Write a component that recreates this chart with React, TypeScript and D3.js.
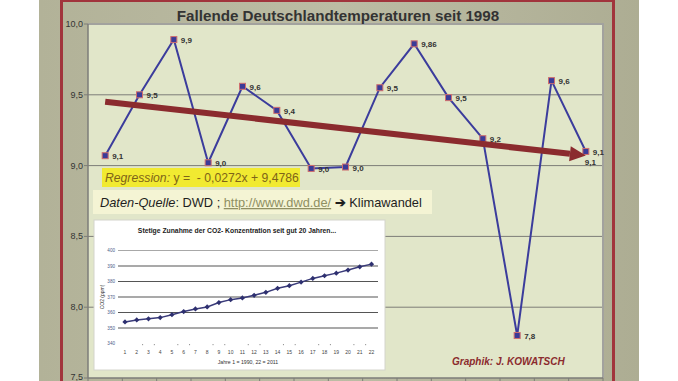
import React from "react";
import * as d3 from "d3";

const categories = ["1997", "1998", "1999", "2000", "2001", "2002", "2003", "2004", "2005", "2006", "2007", "2008", "2009", "2010", "2011"];
const temps = [9.07, 9.5, 9.89, 9.02, 9.56, 9.39, 8.98, 8.99, 9.55, 9.86, 9.48, 9.19, 7.8, 9.6, 9.1];
const tempLabels = ["9,1", "9,5", "9,9", "9,0", "9,6", "9,4", "9,0", "9,0", "9,5", "9,86", "9,5", "9,2", "7,8", "9,6", "9,1"];
const yTicks = [7.5, 8.0, 8.5, 9.0, 9.5, 10.0];
const regSlope = -0.0272;
const regIntercept = 9.4786;

const co2Index = ["1", "2", "3", "4", "5", "6", "7", "8", "9", "10", "11", "12", "13", "14", "15", "16", "17", "18", "19", "20", "21", "22"];
const co2Values = [353.9, 355.2, 355.9, 356.7, 358.6, 360.6, 362.3, 363.6, 366.4, 368.3, 369.4, 371.1, 373.0, 375.6, 377.3, 379.6, 382.0, 383.7, 385.4, 387.4, 389.5, 391.2];
const co2Ticks = [340, 350, 360, 370, 380, 390, 400];

const W = 678;
const H = 381;
const FONT = "'Liberation Sans', Arial, sans-serif";

export default function App() {
  const plot = { l: 88, r: 603, t: 24, b: 378 };
  const x = d3.scaleBand<string>().domain(categories).range([plot.l, plot.r]);
  const y = d3.scaleLinear().domain([7.5, 10]).range([plot.b, plot.t]);
  const cx = (i: number) => (x(categories[i]) as number) + x.bandwidth() / 2;

  const line = d3
    .line<number>()
    .x((_, i) => cx(i))
    .y((d) => y(d));

  // regression arrow
  const n = categories.length;
  const rx0 = cx(0);
  const ry0 = y(regIntercept + regSlope * 1);
  const rx1 = cx(n - 1);
  const ry1 = y(regIntercept + regSlope * n);
  const ang = Math.atan2(ry1 - ry0, rx1 - rx0);
  const headLen = 16;
  const headHalf = 7.5;
  const bx = rx1 - headLen * Math.cos(ang);
  const by = ry1 - headLen * Math.sin(ang);
  const px = -Math.sin(ang);
  const py = Math.cos(ang);
  const head = `M${rx1},${ry1} L${bx + px * headHalf},${by + py * headHalf} L${bx - px * headHalf},${by - py * headHalf} Z`;

  // inset
  const ins = { l: 94, r: 385, t: 220, b: 370 };
  const ix = d3.scalePoint<string>().domain(co2Index).range([125, 371.5]);
  const iy = d3.scaleLinear().domain([340, 400]).range([343.5, 250.5]);
  const iline = d3
    .line<number>()
    .x((_, i) => ix(co2Index[i]) as number)
    .y((d) => iy(d));
  const istep = ix.step();

  return (
    <svg
      width={W}
      height={H}
      style={{ position: "absolute", left: 0, top: 0, fontFamily: FONT }}
    >
      <defs>
        <linearGradient id="bg" x1="0" y1="0" x2="1" y2="0">
          <stop offset="0" stopColor="#b2b298" />
          <stop offset="0.5" stopColor="#bcbca4" />
          <stop offset="1" stopColor="#adad93" />
        </linearGradient>
      </defs>
      <rect x={0} y={0} width={W} height={H} fill="#ffffff" />
      <rect x={39} y={0} width={600} height={H} fill="url(#bg)" />
      <rect x={61.5} y={0.5} width={552} height={H + 10} fill="none" stroke="#a1343c" strokeWidth={3} />

      {/* plot area */}
      <rect x={plot.l} y={plot.t} width={plot.r - plot.l} height={plot.b - plot.t} fill="#e1e6c9" />
      {yTicks.filter((t) => t > 7.5 && t < 10).map((t) => (
        <line key={t} x1={plot.l} x2={plot.r} y1={y(t)} y2={y(t)} stroke="#7d7d78" strokeWidth={1} />
      ))}
      <line x1={plot.l} x2={plot.r + 1} y1={plot.t} y2={plot.t} stroke="#a2a29e" strokeWidth={2} />
      <line x1={plot.r} x2={plot.r} y1={plot.t} y2={plot.b} stroke="#a2a29e" strokeWidth={2} />
      <line x1={plot.l} x2={plot.l} y1={plot.t} y2={plot.b} stroke="#7d7d78" strokeWidth={1.5} />
      <line x1={plot.l} x2={plot.r} y1={plot.b} y2={plot.b} stroke="#7d7d78" strokeWidth={1.5} />
      {yTicks.map((t) => (
        <g key={t}>
          <line x1={plot.l - 4} x2={plot.l} y1={y(t)} y2={y(t)} stroke="#7d7d78" strokeWidth={1} />
          <text x={plot.l - 5} y={Math.min(y(t) + 3, 380)} textAnchor="end" fontSize={9} fill="#333">
            {t.toFixed(1).replace(".", ",")}
          </text>
        </g>
      ))}
      {categories.map((c) => (
        <line key={c} x1={x(c) as number} x2={x(c) as number} y1={plot.b} y2={plot.b + 5} stroke="#7d7d78" strokeWidth={1} />
      ))}
      <line x1={plot.r} x2={plot.r} y1={plot.b} y2={plot.b + 5} stroke="#7d7d78" strokeWidth={1} />

      {/* title */}
      <text x={338} y={21} textAnchor="middle" fontSize={15.2} fontWeight="bold" fill="#333">
        Fallende Deutschlandtemperaturen seit 1998
      </text>

      {/* inset chart */}
      <rect x={ins.l} y={ins.t} width={ins.r - ins.l} height={ins.b - ins.t} fill="#ffffff" stroke="#d4d4cc" strokeWidth={1} />
      <text x={237} y={233} textAnchor="middle" fontSize={6.8} fontWeight="bold" fill="#222">
        Stetige Zunahme der CO2- Konzentration seit gut 20 Jahren...
      </text>
      {co2Ticks.map((t) => (
        <g key={t}>
          {t > 340 && (
            <line x1={118} x2={378} y1={iy(t)} y2={iy(t)} stroke={t === 400 ? "#a8a8a8" : "#555555"} strokeWidth={1.2} />
          )}
          <text x={115} y={iy(t) + 1.6} textAnchor="end" fontSize={4.6} fill="#4a5a8a">
            {t}
          </text>
        </g>
      ))}
      {co2Index.map((c, i) => (
        <g key={c}>
          <text x={ix(c) as number} y={354} textAnchor="middle" fontSize={5} fill="#444">
            {c}
          </text>
          {i % 3 !== 0 && (
            <line x1={(ix(c) as number) + istep / 2} x2={(ix(c) as number) + istep / 2} y1={344} y2={345.2} stroke="#777" strokeWidth={0.8} />
          )}
        </g>
      ))}
      <text x={248} y={364} textAnchor="middle" fontSize={5.2} fill="#333">
        Jahre 1 = 1990, 22 = 2011
      </text>
      <text transform={`translate(104,${297}) rotate(-90)`} textAnchor="middle" fontSize={5} fill="#333">
        CO2 (ppm)
      </text>
      <path d={iline(co2Values) || ""} fill="none" stroke="#3a3b7a" strokeWidth={1.5} />
      {co2Values.map((v, i) => {
        const px2 = ix(co2Index[i]) as number;
        const py2 = iy(v);
        return (
          <path
            key={i}
            d={`M${px2 - 2.6},${py2} L${px2},${py2 - 2.6} L${px2 + 2.6},${py2} L${px2},${py2 + 2.6} Z`}
            fill="#2e3070"
          />
        );
      })}

      {/* regression and source boxes */}
      <rect x={102} y={168} width={198} height={19} fill="#f1ea31" />
      <text x={105} y={182} fontSize={12.2} fill="#7e6418" style={{ whiteSpace: "pre" }}>
        <tspan fontStyle="italic">Regression:</tspan>
        <tspan>{" y =  - 0,0272x + 9,4786"}</tspan>
      </text>
      <rect x={93} y={190} width={339} height={24} fill="#f4f4d4" />
      <text x={100} y={207} fontSize={12.8} fill="#1e1e1e" style={{ whiteSpace: "pre" }}>
        <tspan fontStyle="italic">Daten-Quelle</tspan>
        <tspan>{": DWD ; "}</tspan>
        <tspan fill="#8f8f62" textDecoration="underline">http://www.dwd.de/</tspan>
        <tspan fontWeight="bold">{" \u2794 "}</tspan>
        <tspan>Klimawandel</tspan>
      </text>

      {/* data line */}
      <path d={line(temps) || ""} fill="none" stroke="#3b3c9c" strokeWidth={2} />
      {temps.map((v, i) => (
        <rect key={i} x={cx(i) - 3} y={y(v) - 3} width={6} height={6} fill="#3a3b98" stroke="#cf6e6e" strokeWidth={1} />
      ))}

      {/* regression arrow */}
      <line x1={rx0} y1={ry0} x2={bx} y2={by} stroke="#8b2b2e" strokeWidth={6} />
      <path d={head} fill="#8b2b2e" />

      {/* data labels */}
      {temps.map((v, i) => (
        <text key={i} x={cx(i) + 7} y={y(v) + 3.5} fontSize={8} fontWeight="bold" fill="#333">
          {tempLabels[i]}
        </text>
      ))}
      <text x={cx(n - 1) - 1} y={y(temps[n - 1]) + 14} fontSize={8} fontWeight="bold" fill="#333">
        {tempLabels[n - 1]}
      </text>

      {/* credit */}
      <text x={452} y={365} fontSize={10} fontStyle="italic" fontWeight="bold" fill="#8b2b2e">
        Graphik: J. KOWATSCH
      </text>
    </svg>
  );
}
